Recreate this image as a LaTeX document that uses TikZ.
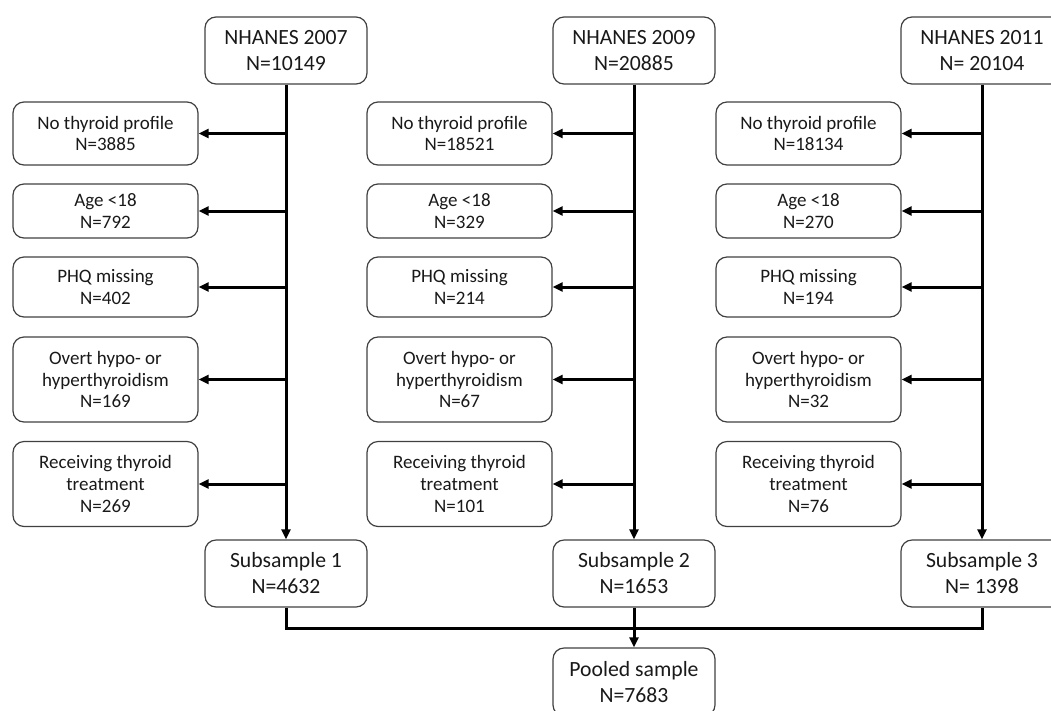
\documentclass[tikz,border=0pt]{standalone}
\usepackage{fontspec}
\setmainfont{Carlito}
\usetikzlibrary{arrows.meta}

\tikzset{
  box/.style={draw=black!75, line width=1.2pt, rounded corners=11pt, align=center, inner sep=2pt, text=black!90},
  headbox/.style={box, minimum width=162pt, minimum height=67pt, font=\fontsize{21.7}{26}\selectfont},
  sidebox/.style={box, minimum width=185pt, font=\fontsize{19}{21.7}\selectfont},
  flow/.style={line width=3pt, -{Triangle[length=10pt,width=9pt]}},
  merge/.style={line width=3pt}
}

\begin{document}
\begin{tikzpicture}[x=1pt,y=-1pt]
\useasboundingbox (0,0) rectangle (1051,710);
\clip (0,0) rectangle (1051,710);

% one column per survey cycle
\foreach \col/\cx/\sx/\yr/\nt/\na/\nb/\nc/\nd/\ne/\ns in {
  1/286/105.5/2007/{N=10149}/3885/792/402/169/269/{N=4632},
  2/634/459.5/2009/{N=20885}/18521/329/214/67/101/{N=1653},
  3/982/808.5/2011/{N= 20104}/18134/270/194/32/76/{N= 1398}}
{
    % cohort and its subsample
    \node[headbox] (top\col) at (\cx,50.5) {NHANES \yr\\\nt};
    \node[headbox] (sub\col) at (\cx,573.5) {Subsample \col\\\ns};

    % exclusions
    \node[sidebox, minimum height=63pt] (a\col) at (\sx,133.5) {No thyroid profile\\N=\na};
    \node[sidebox, minimum height=54pt] (b\col) at (\sx,211) {Age <18\\N=\nb};
    \node[sidebox, minimum height=60pt] (c\col) at (\sx,287) {PHQ missing\\N=\nc};
    \node[sidebox, minimum height=85pt] (d\col) at (\sx,379.5) {Overt hypo- or\\hyperthyroidism\\N=\nd};
    \node[sidebox, minimum height=85pt] (e\col) at (\sx,484) {Receiving thyroid\\treatment\\N=\ne};

    \draw[flow] (top\col) -- (sub\col);
    \foreach \row in {a,b,c,d,e}
        \draw[flow] (top\col.south |- \row\col.east) -- (\row\col.east);
}

% pooled sample
\node[headbox, minimum height=68pt] (pool) at (634,682) {Pooled sample\\N=7683};
\coordinate (join) at (sub2.south |- 0,628);
\draw[merge] (sub1.south) |- (join) -| (sub3.south);
\draw[flow] (sub2) -- (pool);

\end{tikzpicture}
\end{document}
